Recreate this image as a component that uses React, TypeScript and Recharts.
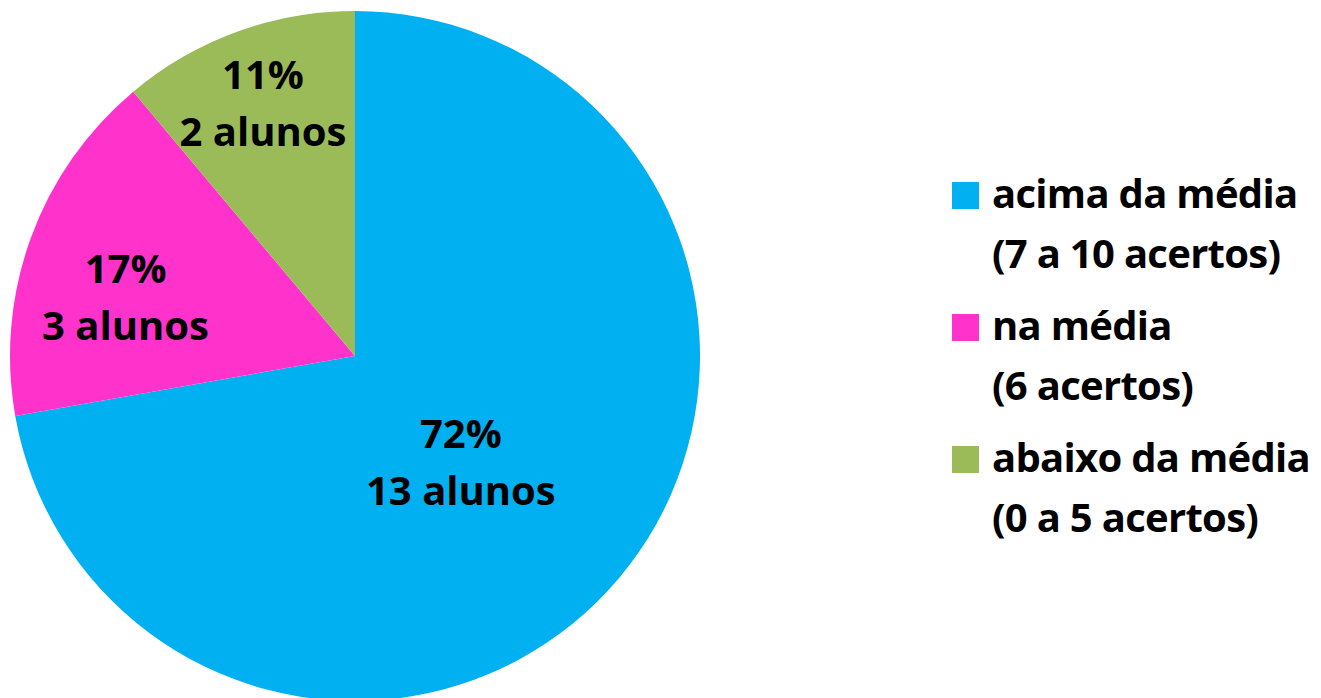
import React from "react";
import { Cell, Legend, Pie, PieChart } from "recharts";

const categories = ["acima da média", "na média", "abaixo da média"];
const ranges = ["(7 a 10 acertos)", "(6 acertos)", "(0 a 5 acertos)"];
const students = [13, 3, 2];
const colors = ["#00B0F0", "#FF33CC", "#9BBB59"];

const data = categories.map((name, i) => ({ name, value: students[i] }));

const FONT = "'Open Sans', sans-serif";
const RADIAN = Math.PI / 180;

// where each data label sits: fraction of radius and a small angle nudge
const labelSpots = [
  { dist: 0.434, turn: -5 },
  { dist: 0.687, turn: 5.5 },
  { dist: 0.78, turn: 0 },
];

const renderLabel = (props: any) => {
  const { cx, cy, midAngle, outerRadius, index, percent, value } = props;
  const spot = labelSpots[index];
  const a = (midAngle + spot.turn) * RADIAN;
  const r = outerRadius * spot.dist;
  const x = cx + r * Math.cos(-a);
  const y = cy + r * Math.sin(-a);
  return (
    <text
      x={x}
      y={y}
      textAnchor="middle"
      fontFamily={FONT}
      fontWeight={700}
      fontSize={40}
      fill="#000"
    >
      <tspan x={x} y={y - 14}>{`${Math.round(percent * 100)}%`}</tspan>
      <tspan x={x} y={y + 43}>{`${value} alunos`}</tspan>
    </text>
  );
};

const legendText = {
  fontFamily: FONT,
  fontWeight: 700,
  fontSize: 40,
  letterSpacing: -0.7,
  fill: "#000",
};

const renderLegend = () => (
  <svg width={381} height={400} style={{ overflow: "visible" }}>
    {categories.map((name, i) => {
      const top = 12 + i * 132;
      return (
        <g key={name}>
          <rect x={12} y={top} width={27} height={27} fill={colors[i]} />
          <text x={52} y={top + 26} {...legendText}>
            {name}
          </text>
          <text x={52} y={top + 86} {...legendText}>
            {ranges[i]}
          </text>
        </g>
      );
    })}
  </svg>
);

export default function App() {
  return (
    <PieChart width={1313} height={690} margin={{ top: 0, right: 0, bottom: 0, left: 0 }}>
      <Pie
        data={data}
        dataKey="value"
        nameKey="name"
        cx={347}
        cy={348}
        outerRadius={345}
        startAngle={90}
        endAngle={-270}
        stroke="none"
        label={renderLabel}
        labelLine={false}
        isAnimationActive={false}
      >
        {data.map((d, i) => (
          <Cell key={d.name} fill={colors[i]} />
        ))}
      </Pie>
      <Legend
        content={renderLegend}
        wrapperStyle={{ position: "absolute", left: 932, top: 162, width: 381 }}
      />
    </PieChart>
  );
}
